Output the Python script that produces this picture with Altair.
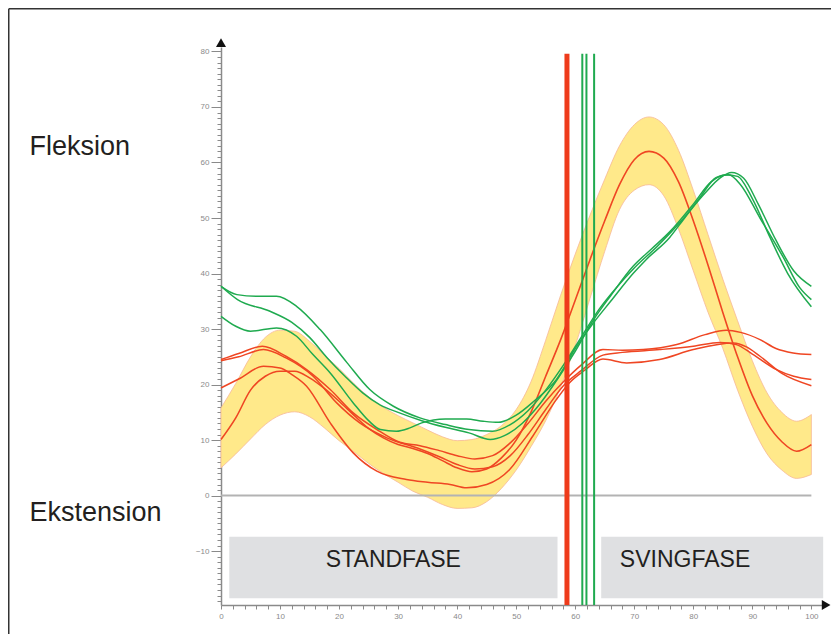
import altair as alt
import pandas as pd

# ---------------- data ----------------
# normative band (common x grid, % of gait cycle)
band_x = [0, 2.5, 5, 7.5, 10, 12.5, 15, 17.5, 20, 22.5, 25, 27.5, 30, 32.5, 35, 37.5, 40,
          42.5, 45, 47.5, 50, 52.5, 55, 57.5, 60, 62.5, 65, 67.5, 70, 72.5, 75, 77.5, 80,
          82.5, 85, 87.5, 90, 92.5, 95, 97.5, 100]
band_upper = [15.8, 20.2, 25.0, 28.5, 29.8, 29.6, 27.8, 25.3, 22.9, 20.2, 17.8, 15.9, 14.4,
              13.1, 11.8, 10.6, 9.9, 10.1, 11.0, 12.6, 15.5, 20.5, 28.0, 36.0, 43.5, 50.5,
              57.0, 63.0, 66.8, 68.2, 66.8, 62.2, 55.0, 47.0, 39.0, 31.5, 24.3, 18.5, 15.0,
              13.4, 14.6]
band_lower = [5.0, 7.5, 10.2, 12.8, 14.5, 15.1, 14.2, 12.2, 9.9, 7.9, 5.8, 4.0, 2.4, 0.8,
              -0.3, -1.6, -2.3, -2.2, -1.1, 1.3, 4.6, 8.8, 13.5, 19.5, 27.0, 35.5, 44.0, 51.5,
              55.0, 56.0, 54.0, 48.0, 40.5, 33.0, 26.5, 19.0, 12.5, 7.5, 4.6, 3.1, 3.8]

# normative mean curve
mean_x = [0, 2.5, 5, 7.5, 10, 12.5, 15, 17.5, 20, 22.5, 25, 27.5, 30, 32.5, 35, 37.5, 40,
          42.5, 45, 47.5, 50, 52.5, 55, 57.5, 60, 62.5, 65, 67.5, 70, 72.5, 75, 77.5, 80,
          82.5, 85, 87.5, 90, 92.5, 95, 97.5, 100]
mean_y = [10.1, 14.0, 19.0, 21.5, 22.4, 22.4, 21.2, 19.3, 17.0, 14.5, 12.1, 10.4, 9.2, 8.5,
          7.6, 6.3, 5.0, 4.3, 4.8, 6.8, 10.0, 15.0, 21.5, 28.0, 35.2, 42.5, 49.5, 56.0, 60.5,
          62.0, 60.8, 56.5, 49.5, 41.5, 33.0, 25.0, 18.0, 13.0, 9.7, 8.0, 9.2]

# individual red curves
red1_x = [0, 3, 7, 11, 14.5, 18.5, 22.4, 26.4, 30.3, 33.7, 37, 40, 43, 46, 49, 52, 55, 58,
          61, 64.7, 68, 71.5, 77.2, 82, 85.6, 88, 91.3, 94, 96.9, 100]
red1_y = [24.5, 25.6, 26.9, 25.1, 22.7, 19.1, 14.9, 11.9, 9.6, 9.0, 8.1, 7.2, 6.6, 7.2, 9.5,
          13.0, 17.0, 20.5, 23.5, 26.3, 26.2, 26.3, 27.2, 29.0, 29.8, 29.4, 28.1, 26.5, 25.7,
          25.4]
red2_x = [0, 3, 7.2, 11, 15.6, 19.6, 23.5, 28.1, 33.7, 37, 40, 43, 46, 49, 52, 55, 58, 61,
          64.7, 68, 74.3, 80, 84.5, 87.3, 90, 94.1, 97, 100]
red2_y = [24.3, 25.0, 26.3, 24.8, 21.5, 16.7, 13.1, 10.4, 8.4, 7.0, 5.6, 4.8, 5.2, 7.2, 11.0,
          15.5, 19.8, 22.5, 25.3, 25.8, 26.3, 26.9, 27.6, 27.2, 25.5, 22.7, 21.5, 20.9]
red3_x = [0, 3, 7.2, 10, 12, 14.5, 18.5, 22.4, 26.4, 31.4, 35, 38.8, 41.6, 45, 48.9, 52.8,
          56.8, 59, 61.5, 64.7, 68.7, 74.3, 80, 86.8, 89, 91.3, 95, 100]
red3_y = [19.4, 21.0, 23.3, 23.0, 21.8, 19.7, 13.1, 7.7, 4.4, 2.9, 2.4, 2.0, 1.4, 2.0, 4.7,
          10.7, 17.3, 20.3, 22.5, 24.6, 23.9, 24.5, 26.3, 27.5, 26.8, 25.1, 22.0, 19.8]

# individual green curves
green1_x = [0, 2.7, 6, 9.4, 12.8, 16.8, 21.3, 25.2, 29.2, 33.7, 38, 42, 46, 49, 52, 55, 58,
            61, 64, 67, 70, 74, 78, 82, 84.5, 86.5, 88.5, 91, 94, 97, 100]
green1_y = [37.7, 36.2, 35.9, 35.9, 34.1, 29.9, 24.0, 19.1, 16.1, 14.0, 12.8, 11.9, 11.6,
            12.8, 15.3, 19.0, 23.5, 28.5, 33.5, 37.5, 41.0, 45.0, 49.5, 54.5, 57.2, 58.2,
            57.2, 52.5, 46.0, 40.5, 37.7]
green2_x = [0, 2.8, 8.3, 12, 15, 18, 21, 24, 27, 30, 34, 38, 42, 45.6, 48, 51, 54, 57, 60,
            63, 66, 69.8, 73, 76, 80, 83, 85.5, 87.5, 90, 93, 96, 100]
green2_y = [37.7, 35.3, 33.2, 31.2, 28.5, 24.8, 21.5, 18.5, 16.3, 15.0, 13.5, 12.3, 11.3,
            10.1, 10.8, 13.0, 16.5, 21.0, 26.0, 31.5, 36.0, 41.3, 44.5, 47.5, 52.5, 56.5,
            57.8, 57.5, 53.5, 46.5, 40.0, 34.0]
green3_x = [0, 2.5, 5, 9.4, 12.8, 15.5, 18.5, 22.4, 25, 27, 29.7, 32, 34, 38, 41.6, 44.4, 47,
            50, 53, 56.8, 60, 63, 66, 69.8, 72, 76, 78.3, 81, 83.9, 86, 88, 91.3, 95.2, 98, 100]
green3_y = [32.3, 30.5, 29.6, 30.2, 28.7, 25.5, 22.1, 16.7, 13.5, 11.9, 11.6, 12.2, 13.1,
            13.8, 13.8, 13.4, 13.2, 14.5, 17.0, 20.9, 26.5, 31.0, 35.0, 40.0, 42.5, 46.5,
            49.7, 53.5, 57.3, 57.8, 56.0, 50.0, 43.0, 37.5, 35.3]

# toe-off markers (% of gait cycle)
toe_off_red = [58.6]
toe_off_green = [61.2, 61.9, 63.2]

# phase boxes and labels
phase_names = ["STANDFASE", "SVINGFASE"]
phase_start = [1.4, 64.4]
phase_end = [57.0, 102.0]
phase_label_x = [29.2, 78.6]

# y-axis side labels
side_labels = ["Fleksion", "Ekstension"]

# ---------------- styling ----------------
RED = "#EF4623"
GREEN = "#1FAA4F"
AXIS = "#8a8a8a"
FONT = "Liberation Sans"

xscale = alt.Scale(domain=[0, 101.8], nice=False, zero=False)
yscale = alt.Scale(domain=[-19.7, 80.8], nice=False, zero=False)

xaxis = alt.Axis(values=list(range(0, 101, 2)),
                 labelExpr="datum.value % 10 === 0 ? datum.label : ''",
                 tickSize=4, tickColor=AXIS, tickWidth=1, domainColor=AXIS, domainWidth=1.5,
                 labelColor=AXIS, labelFontSize=8, labelFont=FONT, labelPadding=3,
                 labelFlush=False, labelOverlap=False, grid=False, title=None)
yaxis = alt.Axis(values=list(range(-19, 81)),
                 labelExpr="datum.value % 10 === 0 ? datum.label : ''",
                 tickSize={"condition": {"test": "datum.value % 10 === 0", "value": 10}, "value": 4},
                 tickColor=AXIS, tickWidth=1, domainColor=AXIS, domainWidth=1.5,
                 labelColor=AXIS, labelFontSize=8, labelFont=FONT, labelPadding=2,
                 labelFlush=False, labelOverlap=False, grid=False, title=None)


def X(f):
    return alt.X(f"{f}:Q", scale=xscale, axis=xaxis)


def Y(f):
    return alt.Y(f"{f}:Q", scale=yscale, axis=yaxis)


# ---------------- tables ----------------
band_df = pd.DataFrame({"x": band_x, "lo": band_lower, "hi": band_upper})
mean_df = pd.DataFrame({"x": mean_x, "y": mean_y})


def long(series):
    rows = []
    for name, xs, ys in series:
        for a, b in zip(xs, ys):
            rows.append({"s": name, "x": a, "y": b})
    return pd.DataFrame(rows)


red_df = long([("r1", red1_x, red1_y), ("r2", red2_x, red2_y), ("r3", red3_x, red3_y)])
green_df = long([("g1", green1_x, green1_y), ("g2", green2_x, green2_y),
                 ("g3", green3_x, green3_y)])

phase_df = pd.DataFrame({"name": phase_names, "x": phase_start, "x2": phase_end,
                         "y": [-7.4, -7.4], "y2": [-18.5, -18.5],
                         "lx": phase_label_x, "ly": [-12.9, -12.9]})

# ---------------- layers ----------------
boxes = alt.Chart(phase_df).mark_rect(color="#dfe0e2", clip=False).encode(
    x=X("x"), x2="x2", y=Y("y"), y2="y2")

band = alt.Chart(band_df).mark_area(color="#FFE98A", stroke="#F6B896", strokeWidth=0.8,
                                    interpolate="monotone").encode(
    x=X("x"), y=Y("lo"), y2="hi")

zero = alt.Chart(pd.DataFrame({"x": [0], "x2": [100], "y": [0]})).mark_rule(
    color="#b3b3b3", strokeWidth=2).encode(x=X("x"), x2="x2", y=Y("y"))

mean_line = alt.Chart(mean_df).mark_line(color=RED, strokeWidth=1.6,
                                         interpolate="monotone").encode(x=X("x"), y=Y("y"))

red_lines = alt.Chart(red_df).mark_line(color=RED, strokeWidth=1.5,
                                        interpolate="monotone").encode(
    x=X("x"), y=Y("y"), detail="s:N")

green_lines = alt.Chart(green_df).mark_line(color=GREEN, strokeWidth=1.5,
                                            interpolate="monotone").encode(
    x=X("x"), y=Y("y"), detail="s:N")

red_v = alt.Chart(pd.DataFrame({"x": toe_off_red, "y": [79.6], "y2": [-19.7]})).mark_rule(
    color="#EE3B1B", strokeWidth=5).encode(x=X("x"), y=Y("y"), y2="y2")

green_v = alt.Chart(pd.DataFrame({"x": toe_off_green, "y": [79.6] * 3,
                                  "y2": [-19.7] * 3})).mark_rule(
    color=GREEN, strokeWidth=2).encode(x=X("x"), y=Y("y"), y2="y2")

arrow_up = alt.Chart(pd.DataFrame({"x": [0], "y": [81.6]})).mark_point(
    shape="triangle-up", filled=True, size=100, color="#111111", opacity=1).encode(
    x=X("x"), y=Y("y"))
arrow_right = alt.Chart(pd.DataFrame({"x": [102.5], "y": [-19.7]})).mark_point(
    shape="triangle-right", filled=True, size=100, color="#111111", opacity=1).encode(
    x=X("x"), y=Y("y"))

phase_text = alt.Chart(phase_df).mark_text(fontSize=23, font=FONT, color="#231f20",
                                           baseline="alphabetic", align="center").encode(
    x=X("lx"), y=Y("ly"), text="name:N")

flex_text = alt.Chart(pd.DataFrame({"t": [side_labels[0]]})).mark_text(
    fontSize=27, font=FONT, color="#231f20", align="left", baseline="alphabetic").encode(
    text="t:N", x=alt.value(-191.5), y=alt.value(108))
ext_text = alt.Chart(pd.DataFrame({"t": [side_labels[1]]})).mark_text(
    fontSize=27, font=FONT, color="#231f20", align="left", baseline="alphabetic").encode(
    text="t:N", x=alt.value(-191.5), y=alt.value(474))

# page frame (top and left edges), kept inside the drawing
frame_top = alt.Chart(pd.DataFrame({"a": [0]})).mark_rule(
    color="#333333", strokeWidth=1.5).encode(
    x=alt.value(-212.25), x2=alt.value(610), y=alt.value(-38.25))
frame_left = alt.Chart(pd.DataFrame({"a": [0]})).mark_rule(
    color="#333333", strokeWidth=1.5).encode(
    x=alt.value(-212.25), y=alt.value(-38.25), y2=alt.value(587))

chart = alt.layer(
    boxes, band, zero, mean_line, red_lines, green_lines, red_v, green_v,
    arrow_up, arrow_right, phase_text, flex_text, ext_text, frame_top, frame_left
).properties(
    width=601, height=558,
    padding={"left": 213, "top": 39, "right": 9, "bottom": 29},
    autosize=alt.AutoSizeParams(type="none"),
    background="white",
).configure_view(stroke=None)

chart.save("out.html", embed_options={"renderer": "svg", "actions": False})
